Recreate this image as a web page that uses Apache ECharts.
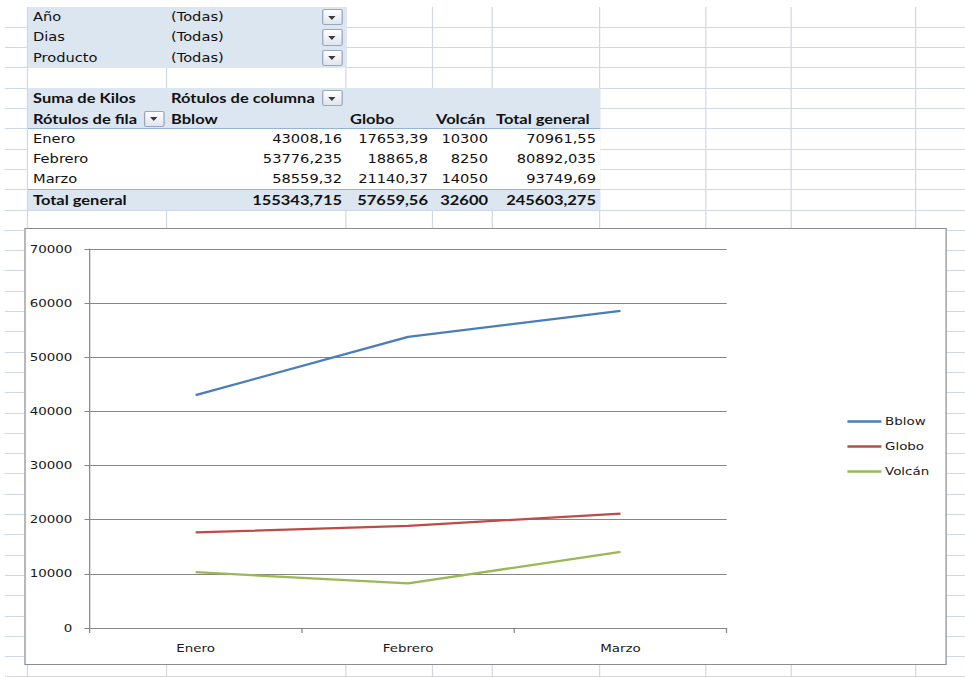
<!DOCTYPE html>
<html>
<head>
<meta charset="utf-8">
<script src="https://cdn.jsdelivr.net/npm/echarts@6/dist/echarts.min.js"></script>
<style>
html,body{margin:0;padding:0;background:#fff;overflow:hidden;}
#page{position:absolute;left:0;top:0;height:677px;transform-origin:0 0;}
.ln{position:absolute;background:#d0d7e5;}
.bx{position:absolute;}
.tx{position:absolute;white-space:nowrap;color:#111;font-family:"DejaVu Sans",Verdana,sans-serif;font-size:12px;}
.b{font-family:Lato,"Open Sans",sans-serif;font-weight:bold;font-size:13.5px;}
.btn{position:absolute;box-sizing:border-box;border:1px solid #9aa6bd;border-radius:2px;background:linear-gradient(#ffffff,#dfe5ee);}
.btn:after{content:"";position:absolute;left:50%;top:50%;margin-left:-3.5px;margin-top:-1.5px;border-left:3.5px solid transparent;border-right:3.5px solid transparent;border-top:4px solid #3a3a3a;}
#chartBox{position:absolute;box-sizing:border-box;border:1px solid #8c8c8c;background:#fff;}
#chart{position:absolute;left:0;top:0;width:100%;height:100%;}
</style>
</head>
<body>
<div id="page"><div id="chartBox"><div id="chart"></div></div></div>
<script>
// ---- data ----
const categories = ['Enero', 'Febrero', 'Marzo'];
const seriesNames = ['Bblow', 'Globo', 'Volcán'];
const bblow = [43008.16, 53776.235, 58559.32];
const globo = [17653.39, 18865.8, 21140.37];
const volcan = [10300, 8250, 14050];
const rowTotals = [70961.55, 80892.035, 93749.69];
const colTotals = [155343.715, 57659.56, 32600];
const grandTotal = 245603.275;
const filterFields = ['Año', 'Dias', 'Producto'];
const filterValue = '(Todas)';
const yMin = 0, yMax = 70000, yStep = 10000;

// ---- layout (reference pixel coordinates, page is stretched horizontally) ----
const S = 1.22;
const px = x => x / S;
const page = document.getElementById('page');
page.style.width = px(965) + 'px';
page.style.transform = 'scaleX(' + S + ')';
const colX = [28, 167, 346, 432, 492, 600, 706, 791, 916];
const rowH = 20.3, row0 = 7;
const rowTop = r => row0 + rowH * (r - 1);   // r = 1-based row

function el(cls, x, y, w, h, style) {
  const d = document.createElement('div');
  d.className = cls;
  d.style.left = px(x) + 'px'; d.style.top = y + 'px';
  if (w != null) d.style.width = px(w) + 'px';
  if (h != null) d.style.height = h + 'px';
  if (style) Object.assign(d.style, style);
  page.insertBefore(d, document.getElementById('chartBox'));
  return d;
}
// grid lines
for (let k = 1; k <= 33; k++) el('ln', 5, rowTop(k + 1) - 0.5, 960, 1);
colX.forEach(x => el('ln', x - 0.5 * S, row0, 1 * S, 677 - row0));

// pivot areas
const fill = '#dce6f1';
el('bx', 28, rowTop(1), 318, rowTop(4) - rowTop(1), {background: fill});
el('bx', 28, rowTop(5), 572, rowTop(7) - rowTop(5), {background: fill});
el('bx', 28, rowTop(7), 572, rowTop(10) - rowTop(7), {background: '#fff'});
el('bx', 28, rowTop(10), 572, rowTop(11) - rowTop(10), {background: fill});
el('bx', 28, rowTop(7) - 0.5, 572, 1, {background: '#95b3d7'});
el('bx', 28, rowTop(10) - 0.5, 572, 1, {background: '#95b3d7'});

function text(str, x, r, opts) {
  opts = opts || {};
  const d = el('tx' + (opts.bold ? ' b' : ''), x, rowTop(r), null, rowH, {lineHeight: rowH + 'px'});
  d.textContent = str;
  if (opts.right) { d.style.left = ''; d.style.right = (px(965) - px(x)) + 'px'; }
  return d;
}
function btn(x, r) { el('btn', x, rowTop(r) + 2, 21, rowH - 4); }

filterFields.forEach((f, i) => { text(f, 33, i + 1); text(filterValue, 171, i + 1); btn(322, i + 1); });
text('Suma de Kilos', 33, 5, {bold: true});
text('Rótulos de columna', 171, 5, {bold: true});
btn(322, 5);
text('Rótulos de fila', 33, 6, {bold: true});
btn(144, 6);
const headX = [171, 350, 436];
seriesNames.forEach((n, i) => text(n, headX[i], 6, {bold: true}));
text('Total general', 496, 6, {bold: true});
const fmt = v => String(v).replace('.', ',');
const rightX = [342, 428, 488, 596];
const allSeries = [bblow, globo, volcan];
categories.forEach((c, i) => {
  text(c, 33, 7 + i);
  allSeries.forEach((s, j) => text(fmt(s[i]), rightX[j], 7 + i, {right: true}));
  text(fmt(rowTotals[i]), rightX[3], 7 + i, {right: true});
});
text('Total general', 33, 10, {bold: true});
colTotals.forEach((v, j) => text(fmt(v), rightX[j], 10, {bold: true, right: true}));
text(fmt(grandTotal), rightX[3], 10, {bold: true, right: true});

// chart box
const box = document.getElementById('chartBox');
box.style.left = px(25) + 'px'; box.style.top = '228px';
box.style.width = px(922) + 'px'; box.style.height = '437px';
const innerL = px(25) + 1, innerT = 229, innerR = px(947) - 1, innerB = 664;

const chart = echarts.init(document.getElementById('chart'), null, {renderer: 'svg'});
const colors = ['#4a7ebb', '#be4b48', '#98b954'];
const font = 'DejaVu Sans';
chart.setOption({
  animation: false,
  color: colors,
  textStyle: {fontFamily: font},
  grid: {
    left: px(90) - innerL, right: innerR - px(727),
    top: 249 - innerT, bottom: innerB - 628, containLabel: false
  },
  legend: {
    orient: 'vertical', left: px(848) - innerL - 5, top: 411 - innerT,
    icon: 'rect', itemWidth: px(34), itemHeight: 2.5, itemGap: 14,
    textStyle: {fontFamily: font, fontSize: 11, color: '#1a1a1a', padding: [0, 0, 0, -2]},
    data: seriesNames
  },
  xAxis: {
    type: 'category', data: categories, boundaryGap: true,
    axisLine: {lineStyle: {color: '#868686', width: 1}},
    axisTick: {show: true, length: 5, lineStyle: {color: '#868686'}},
    axisLabel: {fontFamily: font, fontSize: 11, color: '#1a1a1a', margin: 15},
    splitLine: {show: false}
  },
  yAxis: {
    type: 'value', min: yMin, max: yMax, interval: yStep,
    axisLine: {show: true, lineStyle: {color: '#868686', width: 1}},
    axisTick: {show: true, length: 4, lineStyle: {color: '#868686'}},
    axisLabel: {fontFamily: font, fontSize: 11, color: '#1a1a1a', margin: px(17),
                formatter: v => String(v)},
    splitLine: {show: true, lineStyle: {color: '#868686', width: 1}}
  },
  series: seriesNames.map((n, i) => ({
    name: n, type: 'line', data: allSeries[i],
    symbol: 'none', lineStyle: {width: 2.25, color: colors[i]}
  }))
});
</script>
</body>
</html>
